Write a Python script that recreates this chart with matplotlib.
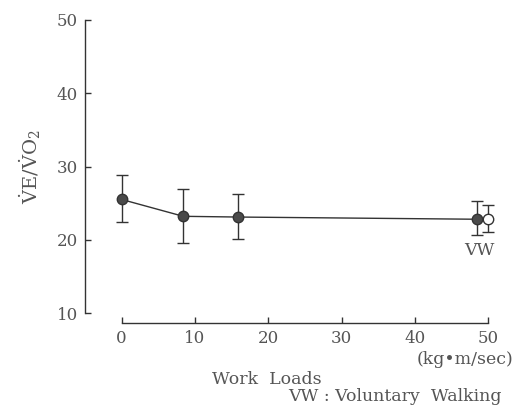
import numpy as np
import matplotlib
matplotlib.use("Agg")
import matplotlib.pyplot as plt

# values
loads = [0, 8.4, 15.9, 48.4]
ratio = [25.5, 23.2, 23.1, 22.8]
err_lo = [3.1, 3.6, 3.0, 2.1]
err_hi = [3.3, 3.7, 3.1, 2.5]

vw_load = [50]
vw_ratio = [22.8]
vw_lo = [1.7]
vw_hi = [2.0]

plt.rcParams['font.family'] = ['DejaVu Serif', 'DejaVu Sans']
plt.rcParams['mathtext.fontset'] = 'dejavuserif'

ink = '#333333'
txt = '#555555'

fig = plt.figure(figsize=(5.14, 4.07), dpi=100)
ax = fig.add_axes([85/514, 94/407, 418/514, 293/407])

ax.errorbar(loads, ratio, yerr=[err_lo, err_hi], fmt='o-', color=ink,
            ecolor=ink, elinewidth=1, capsize=4, capthick=1, lw=1,
            ms=7.5, mfc='#4a4a4a', mec=ink, zorder=3)
ax.errorbar(vw_load, vw_ratio, yerr=[vw_lo, vw_hi], fmt='o', color=ink,
            ecolor=ink, elinewidth=1, capsize=4, capthick=1,
            ms=7.5, mfc='white', mec=ink, zorder=3)
ax.text(48.8, 18.6, 'VW', ha='center', va='center', fontsize=12.5, color=txt)

ax.set_xlim(-5.0, 52)
ax.set_ylim(10, 50)
ax.set_xticks([0, 10, 20, 30, 40, 50])
ax.set_yticks([10, 20, 30, 40, 50])

for s in ['top', 'right']:
    ax.spines[s].set_visible(False)
ax.spines['bottom'].set_position(('outward', 7))
ax.spines['bottom'].set_bounds(0, 50)
ax.spines['left'].set_bounds(10, 50)
for s in ['bottom', 'left']:
    ax.spines[s].set_color(ink)
    ax.spines[s].set_linewidth(1)

ax.tick_params(direction='in', length=4, width=1, color=ink,
               labelsize=12, labelcolor=txt, pad=5)

ax.set_ylabel(r'$\dot{\mathrm{V}}\mathrm{E}/\dot{\mathrm{V}}\mathrm{O}_2$',
              fontsize=14, color=txt, labelpad=10)

fig.text(513/514, 48/407, '(kg\u2022m/sec)', ha='right', va='center',
         fontsize=12.5, color=txt)
fig.text(267/514, 27/407, 'Work  Loads', ha='center', va='center',
         fontsize=12.5, color=txt)
fig.text(288/514, 2/407, 'VW : Voluntary  Walking', ha='left', va='bottom',
         fontsize=12.5, color=txt)

fig.savefig('out.png', dpi=100)
